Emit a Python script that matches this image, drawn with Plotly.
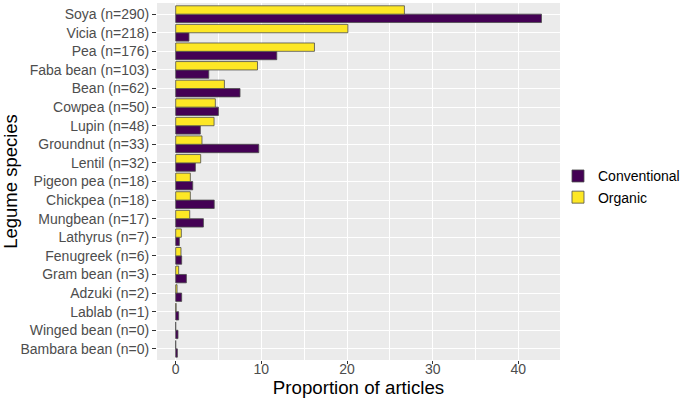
import plotly.graph_objects as go

# categories top to bottom as in the figure
species = [
    "Soya (n=290)", "Vicia (n=218)", "Pea (n=176)", "Faba bean (n=103)",
    "Bean (n=62)", "Cowpea (n=50)", "Lupin (n=48)", "Groundnut (n=33)",
    "Lentil (n=32)", "Pigeon pea (n=18)", "Chickpea (n=18)", "Mungbean (n=17)",
    "Lathyrus (n=7)", "Fenugreek (n=6)", "Gram bean (n=3)", "Adzuki (n=2)",
    "Lablab (n=1)", "Winged bean (n=0)", "Bambara bean (n=0)",
]
conventional = [
    42.7, 1.55, 11.8, 3.86, 7.51, 4.99, 2.88, 9.7, 2.3, 1.99,
    4.5, 3.24, 0.43, 0.7, 1.25, 0.7, 0.35, 0.27, 0.2,
]
organic = [
    26.7, 20.1, 16.2, 9.55, 5.69, 4.63, 4.48, 3.07, 2.92, 1.71,
    1.71, 1.64, 0.66, 0.62, 0.35, 0.16, 0.05, 0.0, 0.0,
]
x_ticks = [0, 10, 20, 30, 40]

FONT = "Liberation Sans, Arial, sans-serif"
OUTLINE = {"color": "#4d4d4d", "width": 0.8}

order = list(reversed(species))

fig = go.Figure()
fig.add_trace(
    go.Bar(
        y=species,
        x=conventional,
        orientation="h",
        name="Conventional",
        marker={"color": "#440154", "line": OUTLINE},
    )
)
fig.add_trace(
    go.Bar(
        y=species,
        x=organic,
        orientation="h",
        name="Organic",
        marker={"color": "#FDE725", "line": OUTLINE},
    )
)

fig.update_layout(
    width=685,
    height=400,
    barmode="group",
    bargap=0.1,
    bargroupgap=0,
    margin={"l": 157, "r": 125, "t": 3, "b": 40, "autoexpand": False},
    paper_bgcolor="#ffffff",
    plot_bgcolor="#EBEBEB",
    font={"family": FONT, "color": "#4D4D4D"},
    legend={
        "x": 0.995,
        "y": 0.485,
        "xanchor": "left",
        "yanchor": "middle",
        "font": {"size": 14, "color": "#000000"},
        "tracegroupgap": 0,
        "bgcolor": "rgba(0,0,0,0)",
    },
)
fig.update_xaxes(
    range=[-2.18, 44.86],
    tickvals=x_ticks,
    showgrid=True,
    gridcolor="#ffffff",
    gridwidth=1.1,
    minor={"dtick": 5, "showgrid": True, "gridcolor": "#ffffff", "gridwidth": 0.5},
    zeroline=False,
    ticks="outside",
    ticklen=3,
    tickwidth=1,
    tickcolor="#333333",
    ticklabelstandoff=-7,
    tickfont={"size": 14, "color": "#4D4D4D"},
    title={"text": "Proportion of articles", "font": {"size": 18.7, "color": "#000000"}, "standoff": 0},
    automargin=False,
)
fig.update_yaxes(
    categoryorder="array",
    categoryarray=order,
    range=[-0.6, 18.6],
    showgrid=True,
    gridcolor="#ffffff",
    gridwidth=1.1,
    zeroline=False,
    ticks="outside",
    ticklen=4,
    tickwidth=1,
    tickcolor="#333333",
    tickfont={"size": 14, "color": "#4D4D4D"},
    title={"text": "Legume species", "font": {"size": 18.5, "color": "#000000"}, "standoff": 2},
    automargin=False,
)

fig.write_html(
    "out.html",
    config={"displayModeBar": False},
    post_script="document.body.style.margin = '0';",
)
